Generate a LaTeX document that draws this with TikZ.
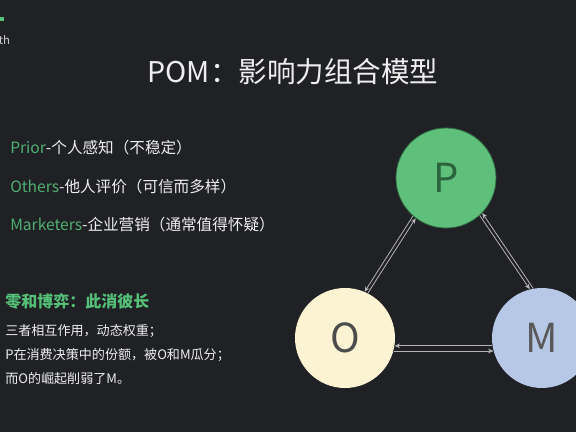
\documentclass[tikz,border=0pt]{standalone}
\usepackage{fontspec}
\setmainfont{Noto Sans CJK SC}
\usetikzlibrary{arrows.meta}
\definecolor{bg}{HTML}{202125}
\definecolor{txt}{HTML}{EEEEEE}
\definecolor{grn}{HTML}{4FB071}
\definecolor{hgrn}{HTML}{55C077}
\definecolor{pfill}{HTML}{5FC07B}
\definecolor{pline}{HTML}{2F6E45}
\definecolor{ofill}{HTML}{FCF3D2}
\definecolor{mfill}{HTML}{B6C8E6}
\definecolor{arr}{HTML}{B4B4B8}
\tikzset{
  circ/.style={circle, minimum size=75pt, inner sep=0pt, font=\fontsize{30}{30}\selectfont},
  listtxt/.style={anchor=west, text=txt, font=\fontsize{11.7}{13}\selectfont, inner sep=0pt},
  smalltxt/.style={anchor=west, text=txt, font=\fontsize{9.8}{11}\selectfont, inner sep=0pt},
  link/.style={draw=arr, line width=0.6pt, -{Stealth[length=4pt,width=3.5pt]}},
}
\begin{document}
\begin{tikzpicture}[x=0.75pt,y=-0.75pt]
\fill[bg] (0,0) rectangle (576,432);
\useasboundingbox (0,0) rectangle (576,432);
% top-left remnants
\fill[hgrn] (0.5,17) rectangle (4,20.5);
\node[anchor=west, inner sep=0pt, text=txt!85!bg, font=\fontsize{8.5}{9}\selectfont] (brand) at (-1.5,40) {th};
% title
\node[text=txt, font=\fontsize{21.4}{24}\selectfont, inner sep=0pt] (title) at (293,72) {POM：影响力组合模型};
% list
\node[listtxt] (l1) at (10,148) {\textcolor{grn}{Prior}-个人感知（不稳定）};
\node[listtxt] (l2) at (10,187) {\textcolor{grn}{Others}-他人评价（可信而多样）};
\node[listtxt] (l3) at (10,225) {\textcolor{grn}{Marketers}-企业营销（通常值得怀疑）};
% heading
\node[anchor=west, inner sep=0pt, text=hgrn, font=\bfseries\fontsize{12}{14}\selectfont] (h) at (5,301) {零和博弈：此消彼长};
\node[smalltxt] (s1) at (5,331) {三者相互作用，动态权重；};
\node[smalltxt] (s2) at (5,355) {P在消费决策中的份额，被O和M瓜分；};
\node[smalltxt] (s3) at (5,379) {而O的崛起削弱了M。};
% circles
\begin{scope}
\clip (0,0) rectangle (576,432);
\node[circ, fill=pfill, draw=pline, line width=0.6pt, text=pline!90!black] (P) at (446,178) {P};
\node[circ, fill=ofill, text=black!70] (O) at (345,338) {O};
\node[circ, fill=mfill, text=black!65] (M) at (542,338) {M};
\end{scope}
% connectors
\draw[link] (P.229) -- (O.67);
\draw[link] (O.63) -- (P.233);
\draw[link] (M.100) -- (P.316);
\draw[link] (P.312) -- (M.104);
\draw[link] (M.189) -- (O.-9);
\draw[link] (O.-15) -- (M.195);
\end{tikzpicture}
\end{document}
